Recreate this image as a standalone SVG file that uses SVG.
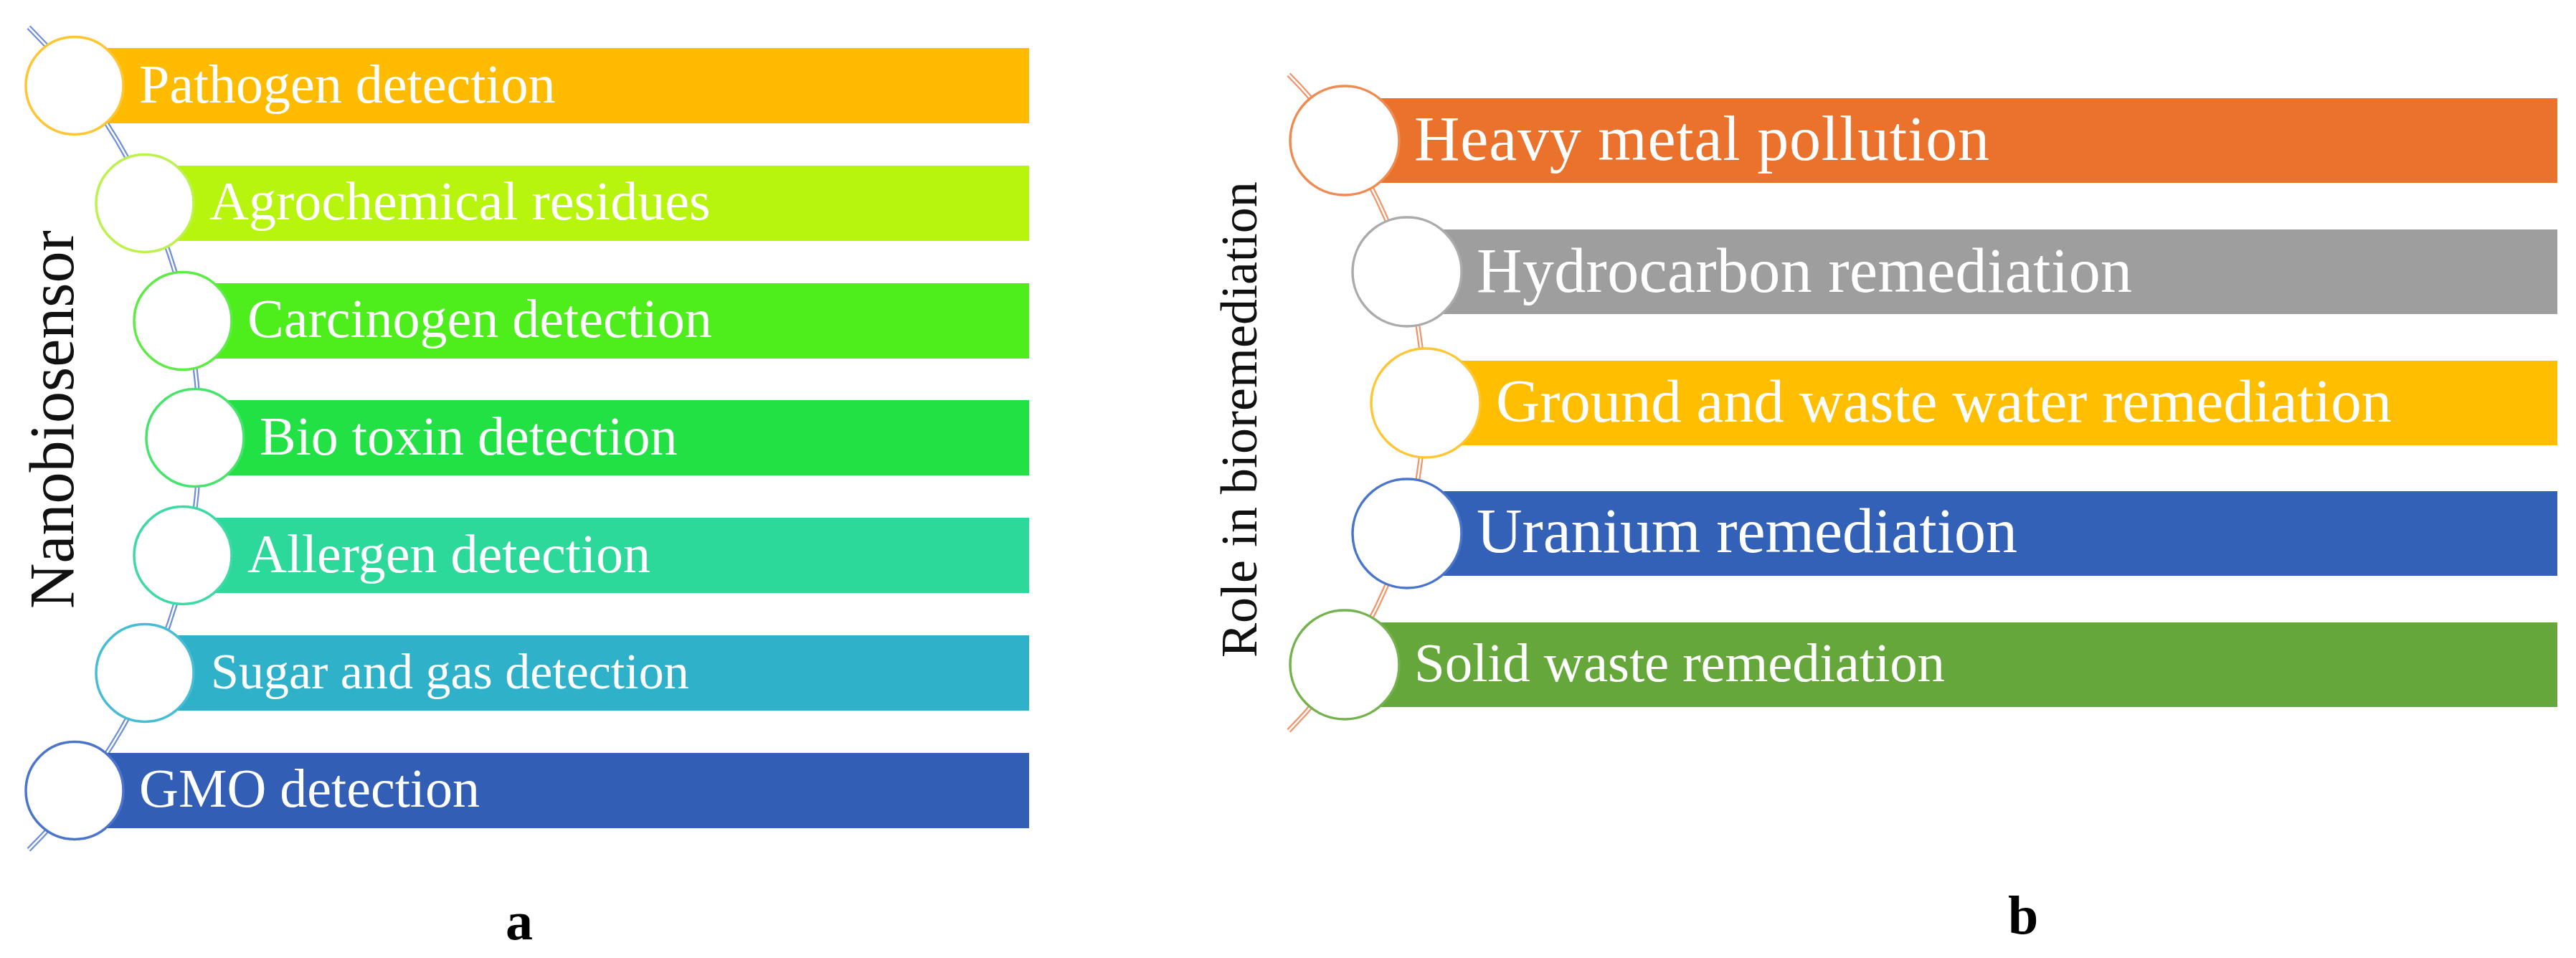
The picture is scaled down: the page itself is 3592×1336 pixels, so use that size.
<svg xmlns="http://www.w3.org/2000/svg" width="3592" height="1336" viewBox="0 0 3592 1336">
<style>
.lbl{font-family:"Liberation Serif","Times New Roman",serif;fill:#ffffff}
.la{font-size:76px}
.lb{font-size:88px}
.side{font-family:"Liberation Serif","Times New Roman",serif;fill:#111111}
.panel{font-family:"Liberation Serif","Times New Roman",serif;font-weight:bold;font-size:76px;fill:#000000}
.dot{fill:#ffffff;stroke-width:3.5}
.wireA{fill:none;stroke:#6E8FD9;stroke-width:7}
.wireB{fill:none;stroke:#F0956A;stroke-width:7}
.gap{fill:none;stroke:#ffffff;stroke-width:2.5}
</style>
<rect width="3592" height="1336" fill="#ffffff"/>
<g id="connectors">
<path class="wireA" d="M40 38 A810 810 0 0 1 40 1185"/>
<path class="gap" d="M40 38 A810 810 0 0 1 40 1185"/>
<path class="wireB" d="M1797 104 A649 649 0 0 1 1797 1019"/>
<path class="gap" d="M1797 104 A649 649 0 0 1 1797 1019"/>
</g>
<g id="title-a"><text class="side" font-size="88" transform="translate(102,849) rotate(-90)">Nanobiosensor</text></g>
<g id="a1"><rect x="104" y="67" width="1331" height="105" fill="#FFBB00"/><circle class="dot" cx="104" cy="119.5" r="68" stroke="#FFC532"/><text class="lbl la" x="194" y="143">Pathogen detection</text></g>
<g id="a2"><rect x="202" y="231" width="1233" height="105" fill="#B7F40E"/><circle class="dot" cx="202" cy="283.5" r="68" stroke="#BDF24E"/><text class="lbl la" x="292" y="306">Agrochemical residues</text></g>
<g id="a3"><rect x="255" y="395" width="1180" height="105" fill="#4DEE1C"/><circle class="dot" cx="255" cy="447.5" r="68" stroke="#5DEB45"/><text class="lbl la" x="345" y="470">Carcinogen detection</text></g>
<g id="a4"><rect x="272" y="558" width="1163" height="105" fill="#22E145"/><circle class="dot" cx="272" cy="610.5" r="68" stroke="#45E46A"/><text class="lbl la" x="362" y="634">Bio toxin detection</text></g>
<g id="a5"><rect x="255" y="722" width="1180" height="105" fill="#2CD89A"/><circle class="dot" cx="255" cy="774.5" r="68" stroke="#3DDAA5"/><text class="lbl la" x="345" y="798">Allergen detection</text></g>
<g id="a6"><rect x="202" y="886" width="1233" height="105" fill="#2FB1C9"/><circle class="dot" cx="202" cy="938.5" r="68" stroke="#46BDD4"/><text class="lbl" font-size="70" x="294" y="960">Sugar and gas detection</text></g>
<g id="a7"><rect x="104" y="1050" width="1331" height="105" fill="#335EB6"/><circle class="dot" cx="104" cy="1102.5" r="68" stroke="#4C74CC"/><text class="lbl la" x="194" y="1125">GMO detection</text></g>
<g id="title-b"><text class="side" font-size="72" transform="translate(1752,917) rotate(-90)">Role in bioremediation</text></g>
<g id="b1"><rect x="1875" y="137" width="1691" height="118" fill="#EA722C"/><circle class="dot" cx="1875" cy="196" r="76" stroke="#F08A50"/><text class="lbl lb" x="1972" y="223" textLength="802" lengthAdjust="spacing">Heavy metal pollution</text></g>
<g id="b2"><rect x="1962" y="320" width="1604" height="118" fill="#9E9E9E"/><circle class="dot" cx="1962" cy="379" r="76" stroke="#ABABAB"/><text class="lbl lb" x="2059" y="407" textLength="914" lengthAdjust="spacing">Hydrocarbon remediation</text></g>
<g id="b3"><rect x="1988" y="503" width="1578" height="118" fill="#FFBE00"/><circle class="dot" cx="1988" cy="562" r="76" stroke="#FFC533"/><text class="lbl" font-size="85" x="2086" y="588" textLength="1249" lengthAdjust="spacing">Ground and waste water remediation</text></g>
<g id="b4"><rect x="1962" y="685" width="1604" height="118" fill="#3361B8"/><circle class="dot" cx="1962" cy="744" r="76" stroke="#4A75CC"/><text class="lbl lb" x="2059" y="770" textLength="754" lengthAdjust="spacing">Uranium remediation</text></g>
<g id="b5"><rect x="1875" y="868" width="1691" height="118" fill="#66A73B"/><circle class="dot" cx="1875" cy="927" r="76" stroke="#74B24E"/><text class="lbl" font-size="77" x="1972" y="950" textLength="740" lengthAdjust="spacing">Solid waste remediation</text></g>
<g id="panel-labels"><text class="panel" x="705" y="1310">a</text><text class="panel" x="2800" y="1302">b</text></g>
</svg>
